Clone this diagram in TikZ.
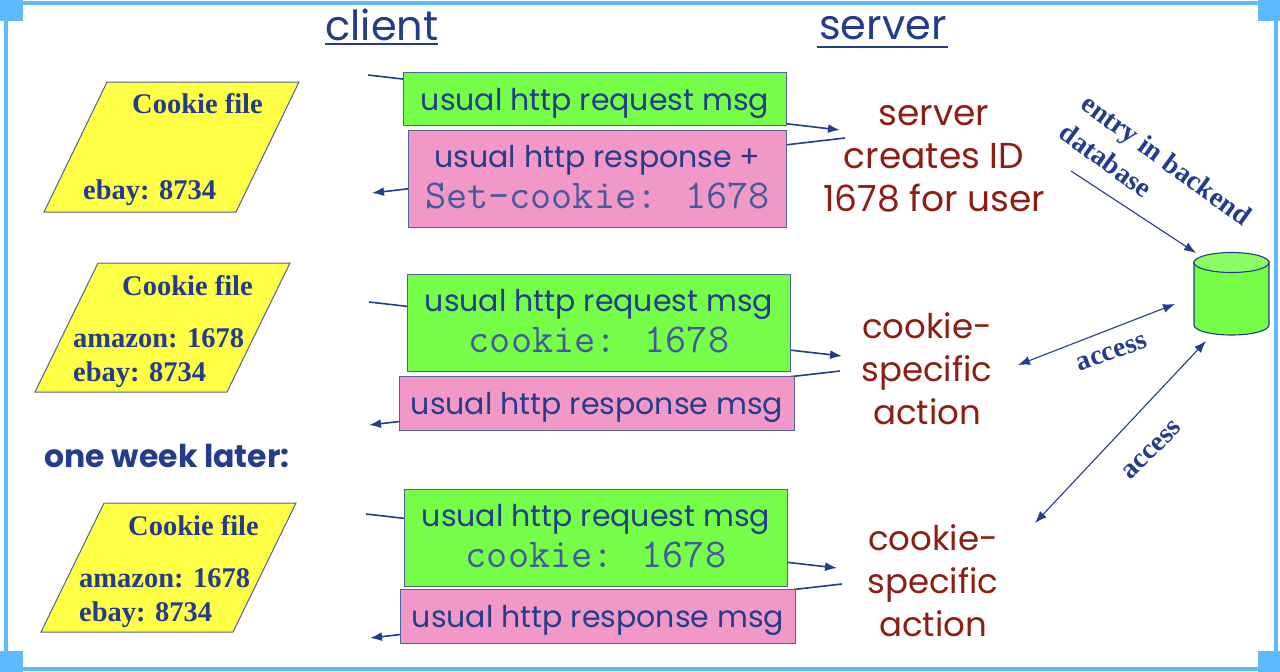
\documentclass[tikz,border=0pt]{standalone}
\usepackage{fontspec}
\setmainfont{Liberation Serif}
\setsansfont[Ligatures = NoCommon]{Poppins}
\usetikzlibrary{arrows.meta}

\definecolor{frameblue}{RGB}{94,187,255}
\definecolor{inkblue}{RGB}{35,60,140}
\definecolor{inkred}{RGB}{140,30,20}
\definecolor{filegreen}{RGB}{118,253,72}
\definecolor{filepink}{RGB}{242,152,198}
\definecolor{fileyellow}{RGB}{255,255,70}

\tikzset{
	msgbox/.style = {draw = inkblue!80, line width = 1pt, inner sep = 0pt, anchor = north west, align = center, text = inkblue, font = \sffamily\fontsize{30}{41}\selectfont},
	reqbox/.style = {msgbox, fill = filegreen},
	respbox/.style = {msgbox, fill = filepink},
	oneline/.style = {text height = 22pt, text depth = 0pt},
	wire/.style = {draw = inkblue, line width = 1.6pt},
	wirehead/.style = {wire, -{Latex[length = 12pt, width = 9pt]}},
	link/.style = {draw = inkblue, line width = 1.1pt, -{Latex[length = 12pt, width = 9pt]}},
	linkboth/.style = {link, {Latex[length = 12pt, width = 9pt]}-{Latex[length = 12pt, width = 9pt]}},
	cookiefile/.style = {draw = inkblue!80, line width = 1pt, fill = fileyellow},
	filetext/.style = {text = inkblue, font = \bfseries\fontsize{28.5}{32}\selectfont, anchor = base west, inner sep = 0pt},
	servertext/.style = {text = inkred, align = center, font = \sffamily\fontsize{34}{43}\selectfont},
	headtext/.style = {text = inkblue, font = \sffamily\fontsize{41.5}{46}\selectfont, inner sep = 0pt},
	slanted/.style = {text = inkblue, font = \bfseries\fontsize{28}{36}\selectfont, align = left, inner sep = 0pt},
	corner/.style = {fill = frameblue}
}

\newcommand{\monotext}[1]{{\ttfamily\fontsize{41}{41}\selectfont\color{inkblue!85} #1\rule[-4.5pt]{0pt}{1pt}}}

\begin{document}
\begin{tikzpicture}[x = 1pt, y = -1pt]

	% Picture frame

	\useasboundingbox (0, 0) rectangle (1280, 672);
	\draw [frameblue, line width = 4pt] (5.5, 3) rectangle (1276, 669);
	\fill [corner] (0, 0) rectangle (23, 21);
	\fill [corner] (1258, 0) rectangle (1280, 21);
	\fill [corner] (0, 651) rectangle (23, 672);
	\fill [corner] (1258, 651) rectangle (1280, 672);

	% Column headings

	\node [headtext] (client) at (382, 25) {client};
	\node [headtext] (server) at (883, 28) {server};
	\draw [inkblue, line width = 1.8pt] (325, 44) -- (438, 44);
	\draw [inkblue, line width = 1.8pt] (817, 47) -- (948, 47);

	% Message wires, they run behind the boxes

	\coordinate (req1-start) at (368, 75);
	\coordinate (req1-end) at (840, 130);
	\coordinate (resp1-start) at (845, 138);
	\coordinate (resp1-end) at (372, 193);
	\coordinate (req2-start) at (369, 302);
	\coordinate (req2-end) at (842, 356);
	\coordinate (resp2-start) at (840, 371);
	\coordinate (resp2-end) at (369, 425);
	\coordinate (req3-start) at (366, 514);
	\coordinate (req3-end) at (837, 568);
	\coordinate (resp3-start) at (842, 584);
	\coordinate (resp3-end) at (370, 638);

	\foreach \n in {1, 2, 3} {
		\draw [wirehead] (req\n-start) -- (req\n-end);
		\draw [wirehead] (resp\n-start) -- (resp\n-end);
	}

	% Message boxes

	\node [reqbox, oneline, minimum width = 383pt, minimum height = 53pt] (req1) at (403, 72) {usual http request msg};
	\node [respbox, minimum width = 378pt, minimum height = 97pt] (resp1) at (408, 130) {usual http response +\\\monotext{Set-cookie: 1678}};
	\node [reqbox, minimum width = 383pt, minimum height = 97pt] (req2) at (407, 274) {usual http request msg\\\monotext{cookie: 1678}};
	\node [respbox, oneline, minimum width = 395pt, minimum height = 54pt] (resp2) at (399, 376) {usual http response msg};
	\node [reqbox, minimum width = 383pt, minimum height = 97pt] (req3) at (404, 489) {usual http request msg\\\monotext{cookie: 1678}};
	\node [respbox, oneline, minimum width = 395pt, minimum height = 54pt] (resp3) at (400, 589) {usual http response msg};

	% Cookie files

	\draw [cookiefile] (107, 82) -- (299, 82) -- (236, 212) -- (44, 212) -- cycle;
	\node [filetext] (file1-title) at (132, 113) {Cookie file};
	\node [filetext] (file1-ebay) at (83, 199) {ebay: 8734};

	\draw [cookiefile] (98, 263) -- (290, 263) -- (227, 392) -- (35, 392) -- cycle;
	\node [filetext] (file2-title) at (122, 295) {Cookie file};
	\node [filetext] (file2-amazon) at (73, 347) {amazon: 1678};
	\node [filetext] (file2-ebay) at (73, 381) {ebay: 8734};

	\draw [cookiefile] (104, 503) -- (296, 503) -- (233, 632) -- (41, 632) -- cycle;
	\node [filetext] (file3-title) at (128, 535) {Cookie file};
	\node [filetext] (file3-amazon) at (79, 587) {amazon: 1678};
	\node [filetext] (file3-ebay) at (79, 621) {ebay: 8734};

	\node [text = inkblue, font = \sffamily\bfseries\fontsize{31.5}{34}\selectfont, inner sep = 0pt] (later) at (167, 456) {one week later:};

	% Server side actions

	\node [servertext, font = \sffamily\fontsize{36}{43}\selectfont] (create) at (934, 159) {server\\creates ID\\1678 for user};
	\node [servertext] (action1) at (927, 369) {cookie-\\specific\\action};
	\node [servertext] (action2) at (933, 581) {cookie-\\specific\\action};

	% Database

	\draw [draw = inkblue, line width = 1.1pt, fill = filegreen] (1194, 262) -- (1194, 325) arc [start angle = 180, end angle = 0, x radius = 37.5, y radius = 10] -- (1269, 262) -- cycle;
	\draw [draw = inkblue, line width = 1.1pt, fill = filegreen!85!white] (1231.5, 262.5) circle [x radius = 37.5, y radius = 10];
	\coordinate (db-top) at (1196, 253);
	\coordinate (db-near) at (1175, 304);
	\coordinate (db-low) at (1206, 341);
	\coordinate (backend) at (1071, 171);
	\coordinate (action1-out) at (1018, 365);
	\coordinate (action2-out) at (1035, 523);

	\draw [link] (backend) -- (db-top);
	\draw [linkboth] (action1-out) -- (db-near);
	\draw [linkboth] (action2-out) -- (db-low);

	\node [slanted, rotate = -36] (entry) at (1156, 174) {entry in backend\\database};
	\node [slanted, rotate = 20] (access1) at (1112, 353) {access};
	\node [slanted, rotate = 44] (access2) at (1152, 450) {access};

\end{tikzpicture}
\end{document}
